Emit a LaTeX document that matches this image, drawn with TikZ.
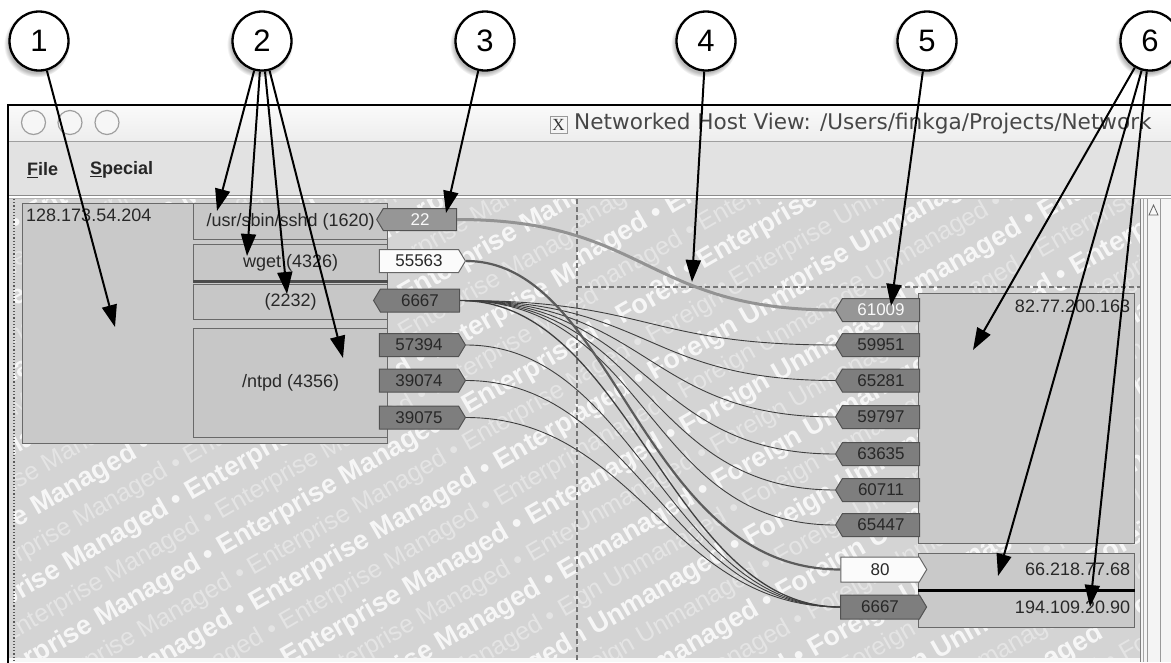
\documentclass[tikz,border=0pt]{standalone}
\usepackage{fontspec}
\setmainfont{Liberation Sans}
\newfontfamily\xserif{Liberation Serif}
\newfontfamily\titlefont{DejaVu Sans}
\usetikzlibrary{shapes.symbols,shadows,arrows.meta,fadings}

\definecolor{paneBg}{RGB}{212,212,212}
\definecolor{hostFill}{RGB}{201,201,201}
\definecolor{hostEdge}{RGB}{105,105,105}
\definecolor{tagDark}{RGB}{126,126,126}
\definecolor{tagEdge}{RGB}{82,82,82}
\definecolor{tagText}{RGB}{40,40,40}
\definecolor{tagPale}{RGB}{150,150,150}
\definecolor{menuBg}{RGB}{226,226,226}
\definecolor{wireCol}{RGB}{62,62,62}
\definecolor{sepCol}{RGB}{118,118,118}

% repeated watermark phrase
\newcommand{\wmrep}[1]{#1 • #1 • #1 • #1 • #1 • #1 • #1}

\begin{document}
\begin{tikzpicture}[x=1pt,y=-1pt,
  hostbox/.style={draw=hostEdge, fill=hostFill, line width=1.3pt, inner sep=0pt},
  procbox/.style={draw=hostEdge, fill=hostFill!103, line width=1.3pt, inner sep=0pt,
    text=tagText, font=\fontsize{18}{18}\selectfont},
  hostlabel/.style={inner sep=0pt, text=tagText, font=\fontsize{18}{18}\selectfont},
  tag/.style={signal, draw=tagEdge, fill=tagDark, text=tagText, line width=1pt,
    minimum width=84pt, minimum height=23pt, inner sep=0pt,
    signal pointer angle=118, font=\fontsize{17}{17}\selectfont},
  tagL/.style={tag, signal to=west},
  tagR/.style={tag, signal to=east},
  tagwhite/.style={fill=white!97!gray, draw=gray!80!black},
  tagpale/.style={fill=tagPale, text=white!95!gray},
  wire/.style={draw=wireCol, line width=0.9pt},
  wirethick/.style={draw=wireCol!85, line width=2.2pt},
  wiregray/.style={draw=gray!85, line width=3pt},
  sepline/.style={draw=sepCol, line width=1.3pt, dash pattern=on 5pt off 3pt},
  wmbold/.style={rotate=30, text=white, text opacity=0.8, inner sep=0pt,
    font=\bfseries\fontsize{27}{27}\selectfont},
  wmlight/.style={rotate=30, text=white, text opacity=0.38, inner sep=0pt,
    font=\fontsize{25}{25}\selectfont},
  callout/.style={circle, draw=black, line width=2.3pt, fill=white, minimum size=59pt,
    inner sep=0pt, font=\fontsize{31}{31}\selectfont,
    circular drop shadow={shadow xshift=-2pt, shadow yshift=-3pt, shadow scale=1.12, opacity=0.55}},
  callarrow/.style={line width=2pt, -{Triangle[length=22pt,width=15pt]}},
  menuitem/.style={inner sep=0pt, text=black!85, font=\bfseries\fontsize{18}{18}\selectfont}
]
\useasboundingbox (0,0) rectangle (1171,662);
\fill[white] (0,0) rectangle (1171,662);

% ---------- window body ----------
\fill[paneBg] (8,199) rectangle (1171,662);

% watermark: left pane
\begin{scope}
  \clip (14,199) rectangle (577,662);
  \foreach \k in {-10,-8,...,10}
    \node[wmbold] at ({300+16*\k},{430+27.7*\k}) {\wmrep{Enterprise Managed}};
  \foreach \k in {-9,-7,...,9}
    \node[wmlight] at ({300+16*\k},{430+27.7*\k}) {\wmrep{Enterprise Managed}};
\end{scope}
% watermark: right pane, upper part
\begin{scope}
  \clip (577,199) rectangle (1140,287);
  \foreach \k in {-4,-2,...,4}
    \node[wmbold] at ({860+16*\k},{245+27.7*\k}) {\wmrep{Enterprise Unmanaged}};
  \foreach \k in {-5,-3,...,5}
    \node[wmlight] at ({860+16*\k},{245+27.7*\k}) {\wmrep{Enterprise Unmanaged}};
\end{scope}
% watermark: right pane, lower part
\begin{scope}
  \clip (577,287) rectangle (1140,662);
  \foreach \k in {-10,-8,...,10}
    \node[wmbold] at ({860+16*\k},{475+27.7*\k}) {\wmrep{Foreign Unmanaged}};
  \foreach \k in {-9,-7,...,9}
    \node[wmlight] at ({860+16*\k},{475+27.7*\k}) {\wmrep{Foreign Unmanaged}};
\end{scope}
\fill[white!94!gray] (8,658) rectangle (1171,662);

% scroll bar
\fill[white!91!gray] (1140,199) rectangle (1171,662);
\draw[gray, line width=0.8pt] (1140,199) -- (1140,662);
\draw[gray!70, line width=0.8pt] (1143,199) -- (1143,662);
\draw[gray!80, line width=0.8pt] (1147,199) -- (1147,662);
\draw[gray!80, line width=0.8pt] (1160,199) -- (1160,662);
\draw[gray!80!black, line width=0.8pt, fill=white!95!gray] (1149,215) -- (1153.5,205) -- (1158,215) -- cycle;

% pane separators
\draw[sepline] (577,199) -- (577,662);
\draw[sepline] (577,287) -- (1140,287);
\draw[gray!70!black, line width=1.2pt, dotted] (14,199) -- (14,662);

% ---------- hosts and processes ----------
\node[hostbox, anchor=north west, minimum width=365pt, minimum height=240pt] (h1) at (22,203) {};
\node[hostlabel, anchor=north west] (h1lbl) at ([shift={(4,6)}]h1.north west) {128.173.54.204};

\node[procbox, anchor=north west, minimum width=194pt, minimum height=36pt] (p1) at (193,203) {/usr/sbin/sshd (1620)};
\node[procbox, anchor=north west, minimum width=194pt, minimum height=36pt] (p2) at (193,244) {wget (4326)};
\node[procbox, anchor=north west, minimum width=194pt, minimum height=35pt] (p3) at (193,284) {(2232)};
\node[procbox, anchor=north west, minimum width=194pt, minimum height=109pt] (p4) at (193,328) {/ntpd (4356)};
\draw[black!70, line width=2.6pt] (p2.south west) -- (p2.south east);

\node[hostbox, anchor=north west, minimum width=216pt, minimum height=250pt] (h2) at (918,293) {};
\node[hostlabel, anchor=north east] (h2lbl) at ([shift={(-5,7)}]h2.north east) {82.77.200.163};
\node[hostbox, anchor=north west, minimum width=216pt, minimum height=36pt] (h3) at (918,553) {};
\node[hostlabel, anchor=east] (h3lbl) at ([shift={(-5,-2)}]h3.east) {66.218.77.68};
\node[hostbox, anchor=north west, minimum width=216pt, minimum height=37pt] (h4) at (918,590) {};
\node[hostlabel, anchor=east] (h4lbl) at ([shift={(-5,-2)}]h4.east) {194.109.20.90};
\draw[black, line width=3pt] (h3.south west) -- (h3.south east);

% ---------- port tags ----------
\node[tagL, tagpale, minimum width=80pt, minimum height=22pt] (t22) at (420,219.5) {22};
\node[tagR, tagwhite, minimum width=86pt] (t55563) at (419,261) {55563};
\node[tagL, minimum width=86pt] (t6667) at (420,300.5) {6667};
\node[tagR, minimum width=86pt] (t57394) at (419,345) {57394};
\node[tagR, minimum width=86pt] (t39074) at (419,380.5) {39074};
\node[tagR, minimum width=86pt] (t39075) at (419,417.5) {39075};

\node[tagL, tagpale] (r61009) at (881,310) {61009};
\node[tagL] (r59951) at (881,345) {59951};
\node[tagL] (r65281) at (881,380.5) {65281};
\node[tagL] (r59797) at (881,417) {59797};
\node[tagL] (r63635) at (881,454) {63635};
\node[tagL] (r60711) at (881,490) {60711};
\node[tagL] (r65447) at (881,525) {65447};
\node[tagR, tagwhite, minimum width=86pt, minimum height=25pt] (r80) at (880,569.5) {80};
\node[tagR, minimum width=86pt, minimum height=24pt] (r6667) at (880,607) {6667};

% ---------- connections ----------
\draw[wiregray] (t22.east) .. controls +(190,0) and +(-190,0) .. (r61009.west);
\foreach \dst in {r59951,r65281,r59797,r63635,r60711,r65447}
  \draw[wire] (t6667.east) .. controls +(190,0) and +(-190,0) .. (\dst.west);
\draw[wire, line width=1.3pt] (t6667.east) .. controls +(170,0) and +(-170,0) .. (r6667.west);
\foreach \src in {t57394,t39074,t39075}
  \draw[wire] (\src.east) .. controls +(170,0) and +(-170,0) .. (r6667.west);
\draw[wirethick] (t55563.east) .. controls +(150,0) and +(-200,0) .. (r80.west);

% ---------- window chrome ----------
\fill[top color=white!96!gray, bottom color=white!86!gray] (8,105) rectangle (1171,141);
\draw[gray!75, line width=0.8pt] (8,141) -- (1171,141);
\fill[menuBg] (8,142) rectangle (1171,195);
\draw[gray!90, line width=1pt] (8,195) -- (1171,195);
\draw[gray!60, line width=1pt] (8,198) -- (1171,198);
\foreach \cx in {33.5,70,107}
  \draw[gray!75, line width=1.2pt, fill=white!93!gray] (\cx,122.5) circle[radius=12];
\node[draw=gray!80, fill=white!92!gray, minimum size=17pt, inner sep=0pt,
      text=gray!40!black, font=\xserif\fontsize{17}{17}\selectfont] (xicon) at (558.5,124.5) {X};
\node[anchor=west, inner sep=0pt, text=black!72, font=\titlefont\fontsize{21.6}{21.6}\selectfont] (title)
  at (574,124) {Networked Host View: /Users/finkga/Projects/Network};
\node[menuitem, anchor=west] (mfile) at (27,170) {\underline{F}ile};
\node[menuitem, anchor=west] (mspecial) at (90,170) {\underline{S}pecial};

% window frame
\draw[black, line width=2.3pt] (8,675) -- (8,105) -- (1180,105);

% ---------- callouts ----------
\node[callout] (c1) at (39,41) {1};
\node[callout] (c2) at (262,41) {2};
\node[callout] (c3) at (485,41) {3};
\node[callout] (c4) at (706,41) {4};
\node[callout] (c5) at (927,41) {5};
\node[callout] (c6) at (1150,41) {6};

\coordinate (a1) at (115,327);
\coordinate (a2a) at (217,211);
\coordinate (a2b) at (247,256);
\coordinate (a2c) at (287,294);
\coordinate (a2d) at (343,358);
\coordinate (a3) at (446,213);
\coordinate (a4) at (692,282);
\coordinate (a5) at (891,306);
\coordinate (a6a) at (973,350);
\coordinate (a6b) at (998,576);
\coordinate (a6c) at (1090,607);

\draw[callarrow] (c1) -- (a1);
\foreach \t in {a2a,a2b,a2c,a2d} \draw[callarrow] (c2) -- (\t);
\draw[callarrow] (c3) -- (a3);
\draw[callarrow] (c4) -- (a4);
\draw[callarrow] (c5) -- (a5);
\foreach \t in {a6a,a6b,a6c} \draw[callarrow] (c6) -- (\t);
\end{tikzpicture}
\end{document}
